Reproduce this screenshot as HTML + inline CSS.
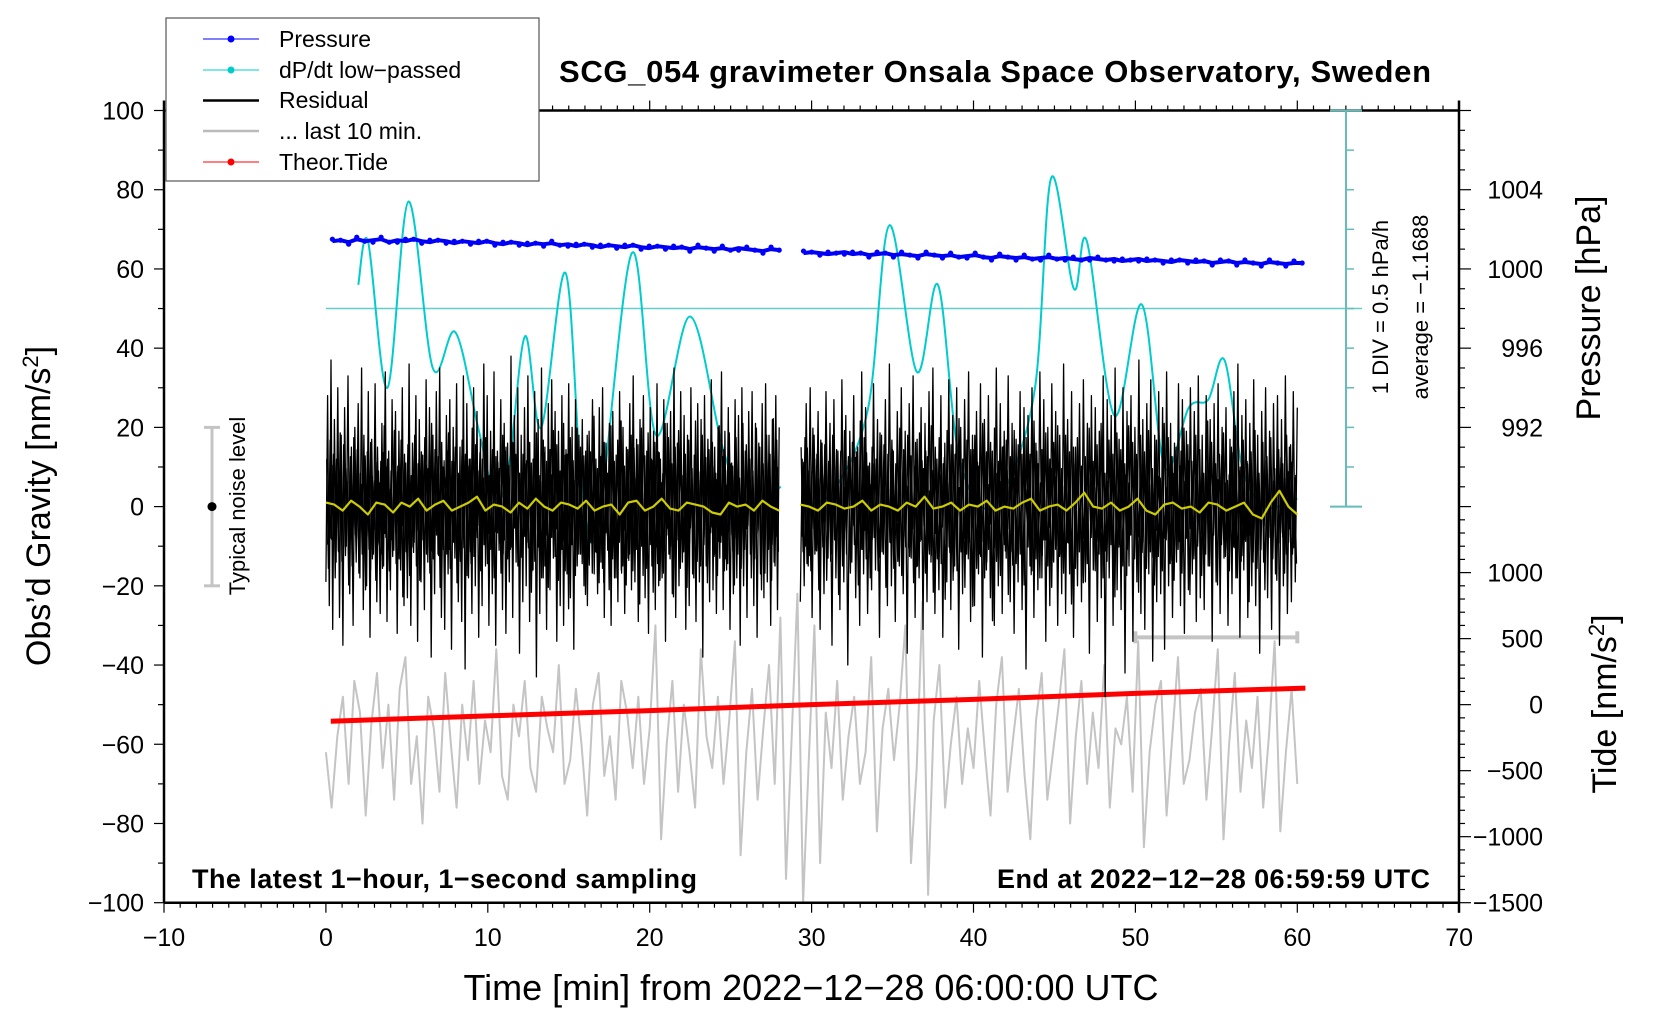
<!DOCTYPE html>
<html><head><meta charset="utf-8"><style>
html,body{margin:0;padding:0;background:#fff}
svg{display:block;font-family:"Liberation Sans",sans-serif}
</style></head><body>
<svg id="chart" width="1660" height="1020" viewBox="0 0 1660 1020" xmlns="http://www.w3.org/2000/svg">
<g id="series"></g>
<g id="axes"></g>
<g>
<rect x="166" y="18" width="373" height="163" fill="#fff" stroke="#555" stroke-width="1.2"/>
<line x1="203" y1="39" x2="259" y2="39" stroke="#00f" stroke-width="1"/><circle cx="231" cy="39" r="3.5" fill="#00f"/>
<text x="279" y="47" font-size="23">Pressure</text>
<line x1="203" y1="70" x2="259" y2="70" stroke="#00cccc" stroke-width="1"/><circle cx="231" cy="70" r="3.5" fill="#00cccc"/>
<text x="279" y="78" font-size="23">dP/dt low−passed</text>
<line x1="203" y1="100.5" x2="259" y2="100.5" stroke="#000" stroke-width="2.5"/>
<text x="279" y="108" font-size="23">Residual</text>
<line x1="203" y1="131" x2="259" y2="131" stroke="#bbb" stroke-width="2.5"/>
<text x="279" y="139" font-size="23">... last 10 min.</text>
<line x1="203" y1="162" x2="259" y2="162" stroke="#f00" stroke-width="1"/><circle cx="231" cy="162" r="3.5" fill="#f00"/>
<text x="279" y="170" font-size="23">Theor.Tide</text>
</g>
<text x="995" y="82" font-size="31" font-weight="bold" text-anchor="middle" textLength="872">SCG_054 gravimeter Onsala Space Observatory, Sweden</text>
<text x="192" y="888" font-size="27" font-weight="bold" textLength="505">The latest 1−hour, 1−second sampling</text>
<text x="997" y="888" font-size="27" font-weight="bold" textLength="433">End at 2022−12−28 06:59:59 UTC</text>
<text x="811" y="1000" font-size="36" text-anchor="middle">Time [min] from 2022−12−28 06:00:00 UTC</text>
<text transform="translate(50,506) rotate(-90)" font-size="34" text-anchor="middle">Obs’d Gravity [nm/s<tspan font-size="22" dy="-12">2</tspan><tspan dy="12">]</tspan></text>
<text transform="translate(1600,308) rotate(-90)" font-size="34" text-anchor="middle">Pressure [hPa]</text>
<text transform="translate(1616,704) rotate(-90)" font-size="34" text-anchor="middle">Tide [nm/s<tspan font-size="22" dy="-12">2</tspan><tspan dy="12">]</tspan></text>
<text transform="translate(1388,307) rotate(-90)" font-size="22" text-anchor="middle">1 DIV = 0.5 hPa/h</text>
<text transform="translate(1428,307) rotate(-90)" font-size="22" text-anchor="middle">average = −1.1688</text>
<text transform="translate(245,506) rotate(-90)" font-size="22" text-anchor="middle">Typical noise level</text>
</svg>
<script>
const xTicks=[-10,0,10,20,30,40,50,60,70];
const yTicks=[-100,-80,-60,-40,-20,0,20,40,60,80,100];
const pTicks=[1004,1000,996,992];
const tideTicks=[1000,500,0,-500,-1000,-1500];
const res1=[-19,28,-25,37,-31,22,-14,30,-28,18,-35,25,-10,33,-22,15,-30,20,-8,26,-18,35,-26,12,-20,29,-33,17,-12,31,-24,9,-27,21,-15,34,-29,14,-21,27,-11,24,-32,19,-16,30,-25,11,-23,36,-30,16,-9,28,-34,22,-19,13,-26,32,-14,25,-38,18,-22,29,-12,35,-28,10,-31,23,-17,27,-36,20,-13,31,-24,15,-29,33,-41,26,-18,12,-27,30,-20,24,-33,17,-25,36,-15,28,-30,19,-22,34,-35,14,-11,27,-26,21,-32,16,-19,38,-28,23,-14,30,-37,18,-24,25,-20,33,-29,11,-16,29,-43,22,-27,35,-18,15,-31,26,-21,32,-13,24,-34,19,-25,28,-30,13,-17,31,-23,20,-36,27,-15,18,-12,22,-20,14,-25,19,-9,27,-17,12,-22,25,-14,30,-28,16,-11,21,-30,24,-18,13,-24,29,-16,20,-27,15,-13,26,-21,33,-19,17,-29,22,-10,28,-23,14,-32,25,-15,19,-26,31,-20,12,-18,27,-34,21,-12,24,-22,35,-28,16,-20,29,-14,23,-31,18,-25,30,-17,13,-29,26,-19,22,-38,28,-15,17,-24,32,-21,15,-27,20,-13,34,-26,19,-16,25,-31,11,-22,27,-18,23,-35,30,-20,14,-28,24,-12,29,-25,21,-33,16,-17,26,-23,31,-19,18,-30,22,-14,28,-26,20];
const res2=[-24,12,-20,26,-15,30,-28,18,-11,24,-31,16,-22,29,-13,21,-35,27,-18,14,-26,32,-19,23,-40,19,-14,28,-23,15,-30,34,-17,25,-27,11,-21,31,-16,22,-33,18,-12,27,-25,36,-20,14,-29,24,-15,30,-22,19,-37,26,-13,33,-28,17,-18,25,-31,21,-24,29,-14,35,-27,12,-21,28,-33,16,-19,32,-26,23,-15,30,-36,20,-22,27,-12,34,-29,18,-25,24,-17,31,-38,22,-16,28,-23,14,-30,35,-20,26,-27,19,-13,33,-24,21,-32,17,-19,29,-26,25,-41,23,-15,30,-28,16,-21,34,-18,27,-34,20,-25,31,-14,24,-30,18,-22,36,-27,22,-17,29,-33,15,-20,26,-24,32,-19,21,-37,28,-16,25,-29,19,-23,33,-48,27,-18,23,-30,35,-21,17,-26,30,-42,24,-15,28,-34,20,-19,37,-27,22,-31,26,-17,32,-39,18,-24,29,-22,25,-36,34,-20,21,-28,16,-14,31,-25,27,-32,19,-21,30,-17,24,-29,33,-23,18,-26,28,-15,22,-34,26,-19,31,-27,20,-13,25,-30,17,-22,29,-18,36,-33,23,-16,27,-28,21,-20,32,-25,18,-37,24,-14,30,-23,19,-31,26,-17,28,-35,22,-20,33,-27,15,-24,29,-19,25];
const yel=[1,0.5,-1,1.5,0,-2,1,0.5,-1.5,1,0,2,-1,0.5,1.5,-1,0,1,2.5,-1,0.5,0,-1.5,1,-0.5,2,0,-1,1,0.5,-0.5,1.5,-1,0,0.5,-2,1,1.5,-1,0,2,-0.5,-1,1,0.5,0,-1.5,-2,1,0,0.5,-1,1.5,0,-1];
const yel2=[0.5,0,-1,1,0.5,-0.5,0,1.5,-1,0.5,0,-1,1,0,2.5,-0.5,0,1,-1,0.5,0,1.5,-1,0,-0.5,1,2,-1,0,0.5,-1,1,3.5,0,-0.5,1,-1,0,2,-1,-2,0.5,1,-0.5,0,-1.5,1,0.5,-1,0,1,-2,-3,1,4,0,-2];
const gray=[-62,-76,-58,-48,-70,-44,-52,-78,-55,-42,-66,-50,-74,-46,-38,-70,-58,-80,-48,-56,-72,-42,-60,-76,-50,-64,-44,-70,-54,-62,-36,-68,-74,-50,-58,-44,-66,-72,-48,-56,-62,-40,-70,-64,-46,-60,-78,-50,-42,-68,-58,-74,-44,-52,-66,-48,-70,-56,-30,-84,-60,-44,-72,-50,-62,-76,-36,-58,-66,-48,-70,-54,-34,-88,-62,-46,-74,-56,-40,-70,-28,-94,-58,-22,-100,-64,-30,-90,-52,-66,-44,-74,-58,-48,-70,-62,-38,-82,-56,-46,-64,-50,-30,-90,-66,-24,-98,-54,-40,-76,-60,-48,-70,-56,-66,-44,-62,-78,-50,-38,-72,-58,-46,-68,-84,-54,-42,-74,-62,-50,-36,-80,-58,-44,-70,-52,-66,-40,-76,-56,-60,-48,-72,-34,-86,-62,-50,-44,-78,-58,-38,-70,-64,-52,-46,-74,-56,-36,-84,-60,-42,-72,-54,-66,-48,-76,-58,-34,-82,-62,-46,-70];
const tideT=[0.3,10,20,30,40,50,60.5];
const tideV=[-125,-85,-45,0,40,85,125];
const cyanT=[2,2.6,3.8,5.1,6.6,8,9.4,10.5,11.3,12.3,13.3,14.8,15.8,16.8,18.9,20.4,22.5,24.5,26,28.1];
const cyanV=[56,67,30,77,35,44,20,2,10,43,20,59,5,-5,64,18,48,15,0,5];
const cyanT2=[29.8,31.5,33.5,34.8,36.5,37.8,39,40.5,42,43.8,44.8,46.2,47,48.7,50.4,51.8,53.3,54.5,55.5,56.6,58,60];
const cyanV2=[0,5,25,71,34,56,15,0,5,30,83,55,67,23,51,10,25,27,37,10,0,2];
const pres1=[1001.4,1001.45,1001.35,1001.5,1001.4,1001.45,1001.5,1001.35,1001.45,1001.4,1001.5,1001.4,1001.35,1001.45,1001.4,1001.3,1001.4,1001.35,1001.3,1001.4,1001.3,1001.25,1001.35,1001.3,1001.2,1001.3,1001.25,1001.3,1001.2,1001.25,1001.15,1001.25,1001.2,1001.1,1001.2,1001.15,1001.1,1001.2,1001.1,1001.05,1001.15,1001.1,1001.05,1001.1,1001.0,1001.1,1001.05,1001.0,1001.05,1000.95,1001.05,1001.0,1000.95,1000.9,1001.0,1000.95];
const pres2=[1000.8,1000.85,1000.8,1000.75,1000.8,1000.85,1000.75,1000.8,1000.7,1000.75,1000.8,1000.7,1000.75,1000.7,1000.65,1000.75,1000.7,1000.65,1000.7,1000.6,1000.65,1000.7,1000.6,1000.55,1000.65,1000.6,1000.55,1000.6,1000.5,1000.55,1000.6,1000.5,1000.55,1000.5,1000.45,1000.55,1000.5,1000.45,1000.5,1000.4,1000.45,1000.5,1000.4,1000.45,1000.4,1000.35,1000.45,1000.4,1000.35,1000.4,1000.3,1000.35,1000.4,1000.3,1000.35,1000.3,1000.25,1000.35,1000.3,1000.25,1000.3,1000.3];

const NS='http://www.w3.org/2000/svg';
const X=t=>325.9+t*16.19;
const Y=g=>506.6-g*3.961;
const PY=p=>Y((p-1000)*5+60);
const TY=v=>Y(-50+v/30);
const S=document.getElementById('series'), A=document.getElementById('axes');
function mk(tag,attrs,parent){const e=document.createElementNS(NS,tag);for(const k in attrs)e.setAttribute(k,attrs[k]);(parent||S).appendChild(e);return e;}
function poly(pts,stroke,w,name){const e=mk('polyline',{points:pts.map(p=>p[0].toFixed(1)+','+p[1].toFixed(1)).join(' '),fill:'none',stroke:stroke,'stroke-width':w,'stroke-linejoin':'round'});

return e;}
function spread(arr,t0,t1,fy){return arr.map((v,i)=>[X(t0+(t1-t0)*i/(arr.length-1)),fy(v)]);}
function smooth(ts,vs,stroke,name){let d='M'+X(ts[0])+','+Y(vs[0]);const P=ts.map((t,i)=>[X(t),Y(vs[i])]);
for(let i=0;i<P.length-1;i++){const p0=P[Math.max(0,i-1)],p1=P[i],p2=P[i+1],p3=P[Math.min(P.length-1,i+2)];
d+=' C'+(p1[0]+(p2[0]-p0[0])/6)+','+(p1[1]+(p2[1]-p0[1])/6)+' '+(p2[0]-(p3[0]-p1[0])/6)+','+(p2[1]-(p3[1]-p1[1])/6)+' '+p2[0]+','+p2[1];}
const e=mk('path',{d:d,fill:'none',stroke:stroke,'stroke-width':2});

}

// gray last 10 min
poly(spread(gray,0,60,Y),'#c4c4c4',2,'last-10-min-line');
const gb=mk('g',{stroke:'#c4c4c4','stroke-width':4});


mk('line',{x1:X(50),y1:Y(-33),x2:X(60),y2:Y(-33)},gb);
mk('line',{x1:X(50),y1:Y(-33)-6,x2:X(50),y2:Y(-33)+6},gb);
mk('line',{x1:X(60),y1:Y(-33)-6,x2:X(60),y2:Y(-33)+6},gb);
// tide
poly(tideT.map((t,i)=>[X(t),TY(tideV[i])]),'#f00',5,'theor-tide-line');
// cyan
const cl=mk('line',{x1:X(0),y1:Y(50),x2:1362,y2:Y(50),stroke:'#66cccc','stroke-width':1.5});


smooth(cyanT,cyanV,'#00cccc','dpdt-line-1');
smooth(cyanT2,cyanV2,'#00cccc','dpdt-line-2');
// residual (main pass + dense reversed overlay of same samples)
poly(spread(res1,0,28,Y),'#000',1.3,'residual-line-1');
poly(spread(res2,29.3,60,Y),'#000',1.3,'residual-line-2');
poly(spread(res1.slice().reverse().map(v=>v*0.6),0.05,27.95,Y),'#000',1.3,'residual-dense-1');
poly(spread(res2.slice().reverse().map(v=>v*0.6),29.35,59.95,Y),'#000',1.3,'residual-dense-2');
poly(spread(res2.map(v=>v*0.4),0.1,27.9,Y),'#000',1.2,'residual-core-1');
poly(spread(res1.map(v=>v*0.4),29.4,59.9,Y),'#000',1.2,'residual-core-2');
poly(spread(yel,0,28,Y),'#cccc00',2.2,'smoothed-residual-1');
poly(spread(yel2,29.3,60,Y),'#cccc00',2.2,'smoothed-residual-2');
// pressure
[[pres1,0.4,28],[pres2,29.5,60.3]].forEach((s,k)=>{
 poly(spread(s[0],s[1],s[2],PY),'#0000ee',4,'pressure-band-'+(k+1));
 spread(s[0],s[1],s[2],PY).forEach((p,i)=>{const c=mk('circle',{cx:p[0],cy:p[1]+((i%3)-1)*2,r:2.6,fill:'#00f'});
 
 });
});

// axes
function ln(x1,y1,x2,y2,st,w,par){return mk('line',{x1,y1,x2,y2,stroke:st,'stroke-width':w},par||A);}
ln(164,Y(100),1459,Y(100),'#000',2.5);
ln(164,Y(-100),1459,Y(-100),'#000',2.5);
ln(164,Y(100)-10,164,Y(-100),'#000',2.5);
ln(1459,Y(100)-10,1459,Y(-100)+10,'#000',2.5);
for(let t=-10;t<=70;t++){const L=(t%10===0)?10:5;ln(X(t),Y(100),X(t),Y(100)-L,'#000',1.2);ln(X(t),Y(-100),X(t),Y(-100)+L,'#000',1.2);}
xTicks.forEach(t=>{const e=mk('text',{x:X(t),y:946,'font-size':25,'text-anchor':'middle'},A);e.textContent=String(t).replace('-','−');

});
for(let g=-100;g<=100;g+=10){ln(164,Y(g),g%20===0?154:158,Y(g),'#000',1.2);}
yTicks.forEach(g=>{const e=mk('text',{x:144,y:Y(g)+9,'font-size':25,'text-anchor':'end'},A);e.textContent=String(g).replace('-','−');

});
for(let p=988;p<=1008;p++){ln(1459,PY(p),p%4===0?1471:1465,PY(p),'#000',1.2);}
pTicks.forEach(p=>{const e=mk('text',{x:1543,y:PY(p)+9,'font-size':25,'text-anchor':'end'},A);e.textContent=p;

});
for(let v=-1500;v<=1400;v+=100){ln(1459,TY(v),v%500===0?1471:1465,TY(v),'#000',1.2);}
tideTicks.forEach(v=>{const e=mk('text',{x:1543,y:TY(v)+9,'font-size':25,'text-anchor':'end'},A);e.textContent=String(v).replace('-','−');

});
ln(1346,Y(100),1346,Y(0),'#66bbbb',2);
ln(1330,Y(100),1362,Y(100),'#66bbbb',2);
ln(1330,Y(0),1362,Y(0),'#66bbbb',2);
for(let g=10;g<100;g+=10)ln(1346,Y(g),1354,Y(g),'#66bbbb',1.5);
const nb=mk('g',{stroke:'#c4c4c4','stroke-width':3},A);


mk('line',{x1:212,y1:Y(20),x2:212,y2:Y(-20)},nb);
mk('line',{x1:204,y1:Y(20),x2:220,y2:Y(20)},nb);
mk('line',{x1:204,y1:Y(-20),x2:220,y2:Y(-20)},nb);
mk('circle',{cx:212,cy:Y(0),r:4.5,fill:'#000',stroke:'none'},nb);
</script>
</body></html>
